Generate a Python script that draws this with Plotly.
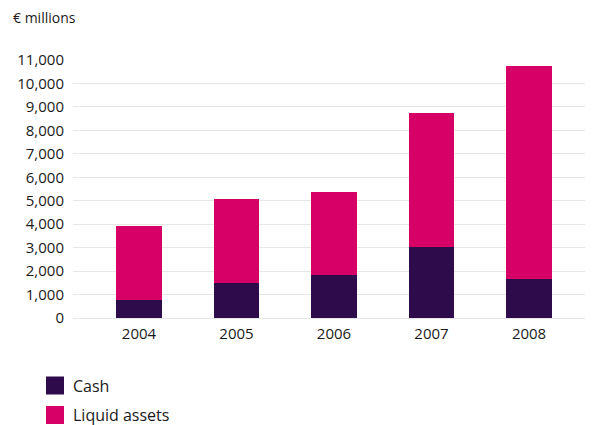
import plotly.graph_objects as go

years = ["2004", "2005", "2006", "2007", "2008"]
cash = [760, 1480, 1830, 3020, 1650]
liquid_assets = [3160, 3590, 3540, 5730, 9100]
y_ticks = list(range(0, 11001, 1000))

CASH_COLOR = "#2e0b4a"
LIQ_COLOR = "#d60066"
FONT = "Open Sans"
TXT = "#1a1a1a"

OFF = 8  # page offset of the figure inside the browser window
# plot area in page pixels
PL, PR, PT, PB = 73, 593, 60, 318
FW, FH = 593 - OFF, 425 - OFF

fig = go.Figure()
fig.add_trace(go.Bar(x=years, y=cash, name="Cash", marker_color=CASH_COLOR,
                     marker_line_width=0, width=0.47))
fig.add_trace(go.Bar(x=years, y=liquid_assets, name="Liquid assets",
                     marker_color=LIQ_COLOR, marker_line_width=0, width=0.47))

fig.update_layout(
    barmode="stack",
    width=FW, height=FH,
    margin=dict(l=PL - OFF, r=FW - (PR - OFF), t=PT - OFF, b=FH - (PB - OFF), pad=0),
    plot_bgcolor="white", paper_bgcolor="white",
    showlegend=False,
    font=dict(family=FONT, color=TXT, size=14),
    xaxis=dict(type="category", range=[-0.677, 4.656], showgrid=False,
               showline=False, ticks="", tickfont=dict(size=15, color=TXT),
               ticklabelstandoff=5),
    yaxis=dict(range=[0, 11000], tickvals=y_ticks, tickformat=",d",
               showgrid=True, gridcolor="#e6e6e6", gridwidth=1,
               zeroline=True, zerolinecolor="#e6e6e6", zerolinewidth=1,
               showline=False, ticks="", tickfont=dict(size=15, color=TXT),
               ticklabelstandoff=8),
)

W = float(PR - PL)
H = float(PB - PT)
def px_to_paper(px, py):
    return (px - PL) / W, (PB - py) / H

# unit label
ux, uy = px_to_paper(11, 18)
fig.add_annotation(text="€ millions", xref="paper", yref="paper",
                   x=ux, y=uy, showarrow=False,
                   xanchor="left", yanchor="middle",
                   font=dict(size=14, color=TXT, family=FONT))

# manual legend
legend_items = [("Cash", CASH_COLOR, 385.5), ("Liquid assets", LIQ_COLOR, 415)]
for label, color, cy in legend_items:
    x0, y0 = px_to_paper(46, cy - 9)
    x1, y1 = px_to_paper(64, cy + 9)
    fig.add_shape(type="rect", xref="paper", yref="paper", x0=x0, x1=x1,
                  y0=y1, y1=y0, fillcolor=color, line_width=0)
    tx, ty = px_to_paper(71, cy)
    fig.add_annotation(text=label, xref="paper", yref="paper", x=tx, y=ty,
                       showarrow=False, xanchor="left", yanchor="middle",
                       font=dict(size=16, color=TXT, family=FONT))

fig.write_html("out.html")
